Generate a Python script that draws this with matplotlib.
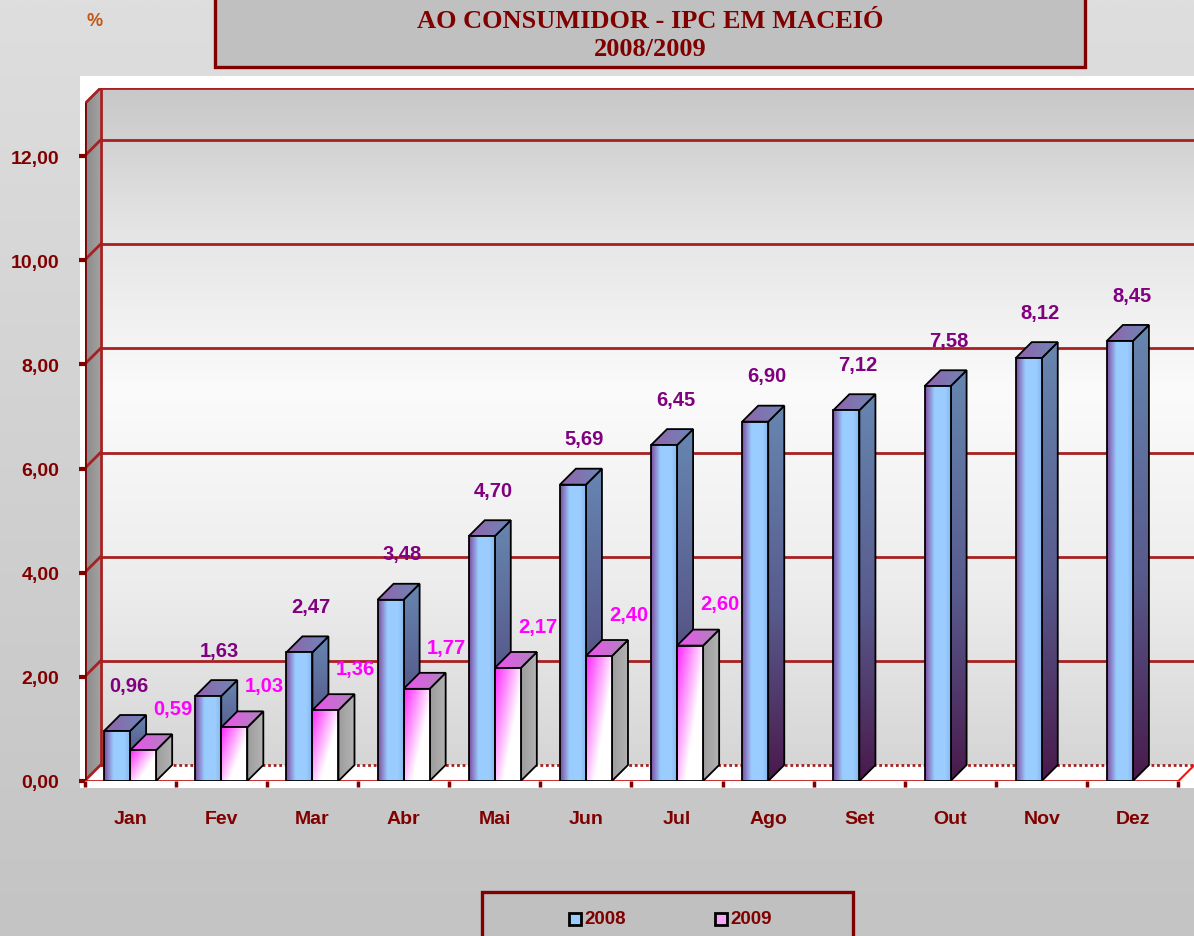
import numpy as np
import matplotlib
matplotlib.use("Agg")
import matplotlib.pyplot as plt
from matplotlib.patches import Polygon, Rectangle
from matplotlib.colors import to_rgb

# dados
meses = ['Jan', 'Fev', 'Mar', 'Abr', 'Mai', 'Jun', 'Jul', 'Ago', 'Set', 'Out', 'Nov', 'Dez']
ipc_2008 = [0.96, 1.63, 2.47, 3.48, 4.70, 5.69, 6.45, 6.90, 7.12, 7.58, 8.12, 8.45]
ipc_2009 = [0.59, 1.03, 1.36, 1.77, 2.17, 2.40, 2.60]
yticks = [0, 2, 4, 6, 8, 10, 12]

VERMELHO = '#800000'
GRADE = '#a82020'
W, H = 1194, 937

plt.rcParams['font.family'] = ['Liberation Sans', 'DejaVu Sans']


def grad(stops, n=64, vertical=False):
    pos = np.linspace(0, 1, n)
    ps = [p for p, _ in stops]
    cols = np.array([to_rgb(c) for _, c in stops])
    arr = np.stack([np.interp(pos, ps, cols[:, k]) for k in range(3)], axis=-1)
    if vertical:
        return np.repeat(arr[:, None, :], 2, axis=1)
    return np.repeat(arr[None, :, :], 2, axis=0)


def grad_rosa(n=48):
    u, v = np.meshgrid(np.linspace(0, 1, n), np.linspace(0, 1, n))
    t = np.clip(1.05 - 0.95 * u - 0.75 * (1 - v), 0, 1)[..., None]
    mag = np.array(to_rgb('#ff30ff'))
    return (1 - t) * np.ones(3) + t * mag


def face(ax, verts, img, z, ec='black', lw=1.3):
    poly = Polygon(verts, closed=True, fc='none', ec=ec, lw=lw, zorder=z + 0.1)
    ax.add_patch(poly)
    xs = [p[0] for p in verts]
    ys = [p[1] for p in verts]
    im = ax.imshow(img, extent=(min(xs), max(xs), min(ys), max(ys)), origin='lower',
                   aspect='auto', interpolation='bilinear', zorder=z)
    im.set_clip_path(poly)


fig = plt.figure(figsize=(W / 100, H / 100), dpi=100)

# fundo
bg = fig.add_axes([0, 0, 1, 1], zorder=-10)
bg.imshow(grad([(0, '#c4c4c4'), (1, '#dedede')], vertical=True), extent=(0, 1, 0, 1),
          origin='lower', aspect='auto', interpolation='bilinear')
bg.set_xlim(0, 1)
bg.set_ylim(0, 1)
bg.axis('off')
bg.add_patch(Rectangle((80 / W, 1 - 789 / H), 1, (789 - 77) / H, fc='white', ec='none'))
bg.add_patch(Rectangle((215 / W, 1 - 68 / H), (1085 - 215) / W, 0.2, fc='#c0c0c0',
                       ec=VERMELHO, lw=2.4))
bg.add_patch(Rectangle((482 / W, -0.1), (853 - 482) / W, 0.1 + (937 - 893) / H, fc='#c0c0c0',
                       ec=VERMELHO, lw=2.4))

fig.text(650 / W, 1 - 21 / H, 'AO CONSUMIDOR - IPC EM MACEIÓ', ha='center', va='center',
         family='Liberation Serif', weight='bold', fontsize=19, color=VERMELHO)
fig.text(650 / W, 1 - 49 / H, '2008/2009', ha='center', va='center',
         family='Liberation Serif', weight='bold', fontsize=19, color=VERMELHO)
fig.text(95 / W, 1 - 22 / H, '%', ha='center', va='center', weight='bold', fontsize=13,
         color='#c05818')

# legenda
for xm, cor, txt in [(575, '#99ccff', '2008'), (721, '#f8a8f8', '2009')]:
    bg.add_patch(Rectangle(((xm - 6) / W, 1 - 926 / H), 12 / W, 12 / H, fc=cor, ec='black', lw=2))
    fig.text((xm + 9) / W, 1 - 920 / H, txt, ha='left', va='center', weight='bold',
             fontsize=13.5, color=VERMELHO)

# eixo principal
ax = fig.add_axes([84.5 / W, 1 - 782 / H, 1110 / W, 693 / H])
ax.patch.set_visible(False)
for s in ax.spines.values():
    s.set_visible(False)

dx = 16 / 91.0
dy = 16 / 52.08
x0, x1 = -0.5, 11.5
ytop = 13

# parede do fundo
face(ax, [(x0 + dx, dy), (x1 + dx, dy), (x1 + dx, ytop + dy), (x0 + dx, ytop + dy)],
     grad([(0, '#d6d6d6'), (0.25, '#ececec'), (0.55, '#fbfbfb'), (0.8, '#e4e4e4'),
           (1, '#c8c8c8')], vertical=True), 1, ec='none')
# parede lateral
face(ax, [(x0, 0), (x0 + dx, dy), (x0 + dx, ytop + dy), (x0, ytop)],
     grad([(0, '#8a8a8a'), (1, '#a4a4a4')]), 1, ec='none')
# piso
ax.add_patch(Polygon([(x0, 0), (x1, 0), (x1 + dx, dy), (x0 + dx, dy)], closed=True,
                     fc='white', ec='none', zorder=1.5))

for v in yticks + [ytop]:
    ax.plot([x0 + dx, x1 + dx], [v + dy, v + dy], color=GRADE, lw=2, zorder=2,
            ls=(0, (1, 1)) if v == 0 else '-')
    ax.plot([x0, x0 + dx], [v, v + dy], color=GRADE, lw=2, zorder=2)
ax.plot([x0 + dx, x0 + dx], [dy, ytop + dy], color=GRADE, lw=2, zorder=2)
ax.plot([x0, x0], [0, ytop], color=VERMELHO, lw=2, zorder=2)
ax.plot([x0, x1], [0, 0], color='#c01818', lw=2, zorder=3)
ax.plot([x1, x1 + dx], [0, dy], color='#ff1010', lw=1.5, zorder=3)

# barras
bw = 26 / 91.0
g08_front = grad([(0, '#7e4c9e'), (0.35, '#99ccff'), (0.75, '#9ccdff'), (1, '#84b4ea')])
g08_side = grad([(0, '#4a1a4c'), (0.45, '#585a8c'), (1, '#6686b0')], vertical=True)
g08_top = grad([(0, '#9462aa'), (1, '#6a88b8')])
g09_front = grad_rosa()
g09_side = grad([(0, '#9c9c9c'), (1, '#b4b4b4')])
g09_top = grad([(0, '#f050f0'), (1, '#a888b8')])

for i, mes in enumerate(meses):
    series = [(ipc_2008[i], i - bw, g08_front, g08_side, g08_top)]
    if i < len(ipc_2009):
        series.append((ipc_2009[i], i, g09_front, g09_side, g09_top))
    for h, a, gf, gs, gt in series:
        b = a + bw
        z = 5 + i
        face(ax, [(b, 0), (b + dx, dy), (b + dx, h + dy), (b, h)], gs, z)
        face(ax, [(a, h), (b, h), (b + dx, h + dy), (a + dx, h + dy)], gt, z + 0.2)
        face(ax, [(a, 0), (b, 0), (b, h), (a, h)], gf, z + 0.4)

# rótulos de valores
for i, v in enumerate(ipc_2008):
    ax.annotate(f'{v:.2f}'.replace('.', ','), (i, v), xytext=(-1, 33),
                textcoords='offset points', ha='center', va='center', weight='bold',
                fontsize=14.5, color='#800080', zorder=30)
for i, v in enumerate(ipc_2009):
    ax.annotate(f'{v:.2f}'.replace('.', ','), (i, v), xytext=(31, 30),
                textcoords='offset points', ha='center', va='center', weight='bold',
                fontsize=14.5, color='#ff00ff', zorder=30)

ax.set_xlim(x0, x1 + dx)
ax.set_ylim(0, ytop + dy)
ax.set_yticks(yticks, [f'{v:.2f}'.replace('.', ',') for v in yticks])
ax.set_xticks(range(len(meses)), meses)
ax.set_xticks(np.arange(x0, x1 + 0.1, 1), minor=True)
ax.tick_params(axis='y', length=4, width=3, color=VERMELHO, labelcolor=VERMELHO,
               labelsize=14, pad=14)
ax.tick_params(axis='x', which='major', length=0, labelcolor=VERMELHO, labelsize=14, pad=21)
ax.tick_params(axis='x', which='minor', length=4, width=2.5, color=VERMELHO)
for lb in ax.get_xticklabels() + ax.get_yticklabels():
    lb.set_fontweight('bold')

fig.savefig('out.png', dpi=100)
